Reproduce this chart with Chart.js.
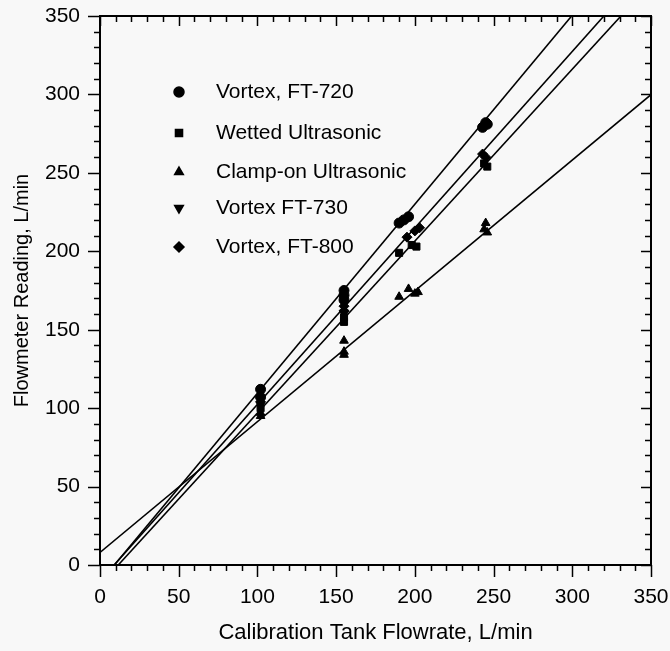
<!DOCTYPE html>
<html>
<head>
<meta charset="utf-8">
<script src="https://cdn.jsdelivr.net/npm/chart.js"></script>
<style>
  html, body { margin: 0; padding: 0; background: #f8f8f8; }
  #wrap { width: 670px; height: 651px; }
</style>
</head>
<body>
<div id="wrap"><canvas id="flowChart" width="670" height="651"></canvas></div>
<script>
// series labels and marker styles
var seriesLabels = ['Vortex, FT-720', 'Wetted Ultrasonic', 'Clamp-on Ultrasonic', 'Vortex FT-730', 'Vortex, FT-800'];
var seriesStyles = ['circle', 'rect', 'triangle', 'triangle', 'rectRot'];
var seriesRotation = [0, 0, 0, 180, 0];

// readings (x = calibration tank flowrate, y = flowmeter reading), L/min
var ft720X = [102, 102, 155, 155, 155, 190, 193, 196, 243, 245, 246];
var ft720Y = [112, 107, 175, 172, 169, 218, 220, 222, 279, 282, 281];
var wettedX = [102, 155, 155, 190, 198, 201, 244, 246];
var wettedY = [100, 158, 155, 199, 204, 203, 256, 254];
var clampX = [102, 102, 155, 155, 155, 190, 196, 200, 202, 244, 245, 246];
var clampY = [95, 97, 143, 136, 134, 171, 176, 173, 174, 214, 218, 212];
var ft730X = [102, 155, 155];
var ft730Y = [102, 167, 161];
var ft800X = [102, 155, 155, 195, 200, 203, 243, 245];
var ft800Y = [104, 165, 162, 209, 213, 215, 262, 260];

// straight-line fits (y = slope * x + intercept), index into seriesLabels
var fitSeries = [0, 1, 2, 4];
var fitSlope = [1.205, 1.096, 0.834, 1.125];
var fitIntercept = [-11, -12.7, 8, -10.1];

// axis range and ticks
var axisMin = 0;
var axisMax = 350;
var majorStep = 50;
var minorStep = 10;

var FONT = '"Liberation Sans", Arial, sans-serif';
var seriesX = [ft720X, wettedX, clampX, ft730X, ft800X];
var seriesY = [ft720Y, wettedY, clampY, ft730Y, ft800Y];

function pairs(xs, ys) {
  return xs.map(function (x, i) { return { x: x, y: ys[i] }; });
}

var datasets = [];
seriesLabels.forEach(function (label, i) {
  datasets.push({
    label: label,
    data: pairs(seriesX[i], seriesY[i]),
    pointStyle: seriesStyles[i],
    rotation: seriesRotation[i],
    pointRadius: 5,
    backgroundColor: '#000',
    borderColor: '#000',
    borderWidth: 1,
    showLine: false
  });
});

fitSeries.forEach(function (s, k) {
  var m = fitSlope[k], b = fitIntercept[k];
  var x0 = Math.max(axisMin, (axisMin - b) / m);
  var x1 = Math.min(axisMax, (axisMax - b) / m);
  datasets.push({
    label: seriesLabels[s] + ' fit',
    data: [{ x: x0, y: m * x0 + b }, { x: x1, y: m * x1 + b }],
    showLine: true,
    borderColor: '#000',
    borderWidth: 1.6,
    pointRadius: 0,
    fill: false
  });
});

// frame, minor/major tick marks and the inset legend
var framePlugin = {
  id: 'frame',
  afterDraw: function (chart) {
    var ctx = chart.ctx;
    var a = chart.chartArea;
    var xs = chart.scales.x, ys = chart.scales.y;
    ctx.save();
    ctx.strokeStyle = '#000';
    ctx.lineWidth = 2;
    ctx.strokeRect(a.left, a.top, a.right - a.left, a.bottom - a.top);
    ctx.lineWidth = 1.5;
    ctx.beginPath();
    for (var v = axisMin; v <= axisMax; v += minorStep) {
      var major = v % majorStep === 0;
      var out = major ? 12 : 6;
      var inn = major ? 10 : 6;
      var px = Math.round(xs.getPixelForValue(v)) + 0.5;
      var py = Math.round(ys.getPixelForValue(v)) + 0.5;
      // bottom & left: outward
      ctx.moveTo(px, a.bottom); ctx.lineTo(px, a.bottom + out);
      ctx.moveTo(a.left, py); ctx.lineTo(a.left - out, py);
      // top & right: inward
      ctx.moveTo(px, a.top); ctx.lineTo(px, a.top + inn);
      ctx.moveTo(a.right, py); ctx.lineTo(a.right - inn, py);
    }
    ctx.stroke();

    // legend
    var rowsY = [92, 133, 172, 208, 247];
    ctx.fillStyle = '#000';
    ctx.font = '21px ' + FONT;
    ctx.textBaseline = 'middle';
    seriesLabels.forEach(function (label, i) {
      var y = rowsY[i];
      if (Chart.helpers && Chart.helpers.drawPoint) {
        Chart.helpers.drawPoint(ctx, { pointStyle: seriesStyles[i], rotation: seriesRotation[i], radius: 5, borderWidth: 1 }, 179, y);
      }
      ctx.fillText(label, 216, y);
    });
    ctx.restore();
  }
};

var ctx = document.getElementById('flowChart');
new Chart(ctx, {
  type: 'scatter',
  data: { datasets: datasets },
  plugins: [framePlugin],
  options: {
    responsive: false,
    animation: false,
    layout: { padding: { top: 16, right: 19, left: 0, bottom: 0 } },
    plugins: { legend: { display: false }, tooltip: { enabled: false } },
    scales: {
      x: {
        type: 'linear',
        min: axisMin,
        max: axisMax,
        afterFit: function (s) { s.height = 86; s.paddingLeft = 0; s.paddingRight = 0; },
        grid: { display: false, drawTicks: false },
        border: { display: false },
        ticks: {
          stepSize: majorStep,
          padding: 20,
          color: '#000',
          font: { family: FONT, size: 21 }
        },
        title: {
          display: true,
          text: 'Calibration Tank Flowrate, L/min',
          color: '#000',
          padding: { top: 0, bottom: 5 },
          font: { family: FONT, size: 22 }
        }
      },
      y: {
        type: 'linear',
        min: axisMin,
        max: axisMax,
        afterFit: function (s) { s.width = 100; s.paddingTop = 0; s.paddingBottom = 0; },
        grid: { display: false, drawTicks: false },
        border: { display: false },
        ticks: {
          stepSize: majorStep,
          padding: 20,
          color: '#000',
          font: { family: FONT, size: 21 }
        },
        title: {
          display: true,
          text: 'Flowmeter Reading, L/min',
          color: '#000',
          padding: { top: 10, bottom: 0 },
          font: { family: FONT, size: 20 }
        }
      }
    }
  }
});
</script>
</body>
</html>
